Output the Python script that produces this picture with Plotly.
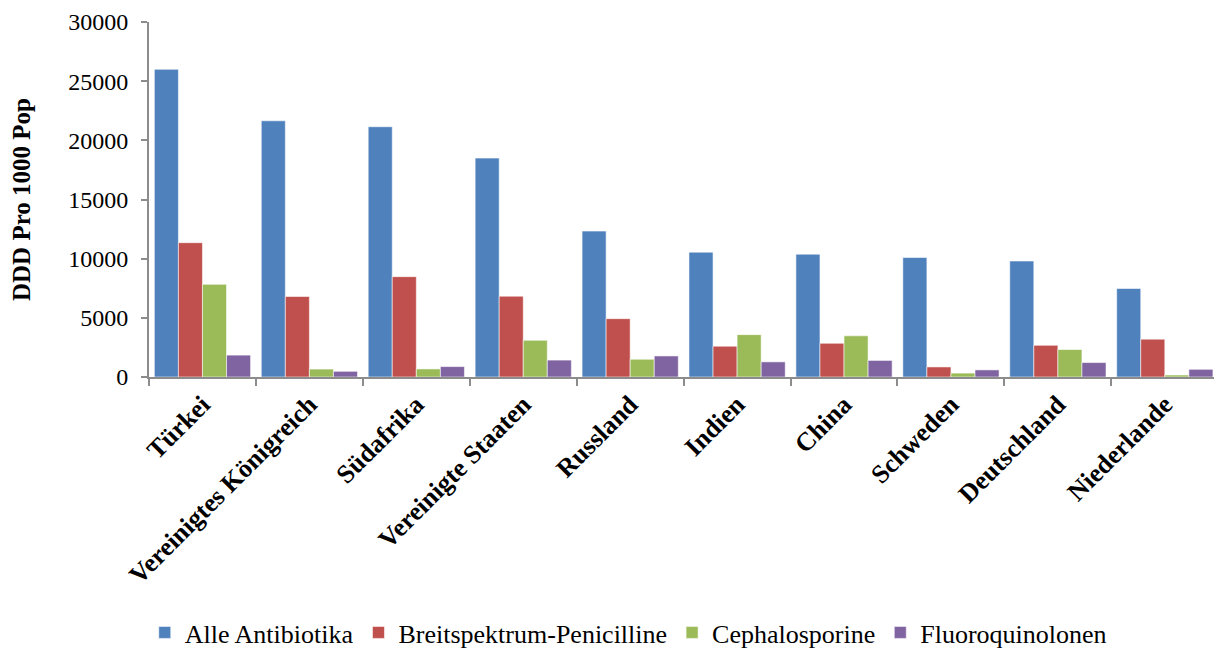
import plotly.graph_objects as go

countries = ["Türkei", "Vereinigtes Königreich", "Südafrika", "Vereinigte Staaten",
             "Russland", "Indien", "China", "Schweden", "Deutschland", "Niederlande"]

alle_antibiotika = [26000, 21650, 21150, 18500, 12330, 10550, 10380, 10100, 9800, 7480]
breitspektrum_penicilline = [11350, 6800, 8480, 6830, 4930, 2600, 2850, 850, 2680, 3200]
cephalosporine = [7830, 670, 680, 3100, 1500, 3580, 3480, 330, 2320, 170]
fluoroquinolone = [1850, 480, 880, 1430, 1780, 1280, 1400, 600, 1220, 650]

series_names = ["Alle Antibiotika", "Breitspektrum-Penicilline", "Cephalosporine", "Fluoroquinolonen"]
series_values = [alle_antibiotika, breitspektrum_penicilline, cephalosporine, fluoroquinolone]
series_colors = ["#4F81BD", "#C0504D", "#9BBB59", "#8064A2"]

y_ticks = [0, 5000, 10000, 15000, 20000, 25000, 30000]

serif = "Liberation Serif"

fig = go.Figure()
for name, vals, col in zip(series_names, series_values, series_colors):
    fig.add_trace(go.Bar(
        name=name, x=countries, y=vals,
        marker=dict(color=col, line=dict(color="rgba(255,255,255,0.55)", width=1)),
    ))

fig.update_layout(
    width=1214, height=656,
    margin=dict(l=149, r=0, t=22, b=275),
    paper_bgcolor="white", plot_bgcolor="white",
    barmode="group", bargap=0.1, bargroupgap=0,
    font=dict(family=serif, size=24, color="black"),
    showlegend=True,
    legend=dict(orientation="h", x=0.45, xanchor="center", y=-0.72, yanchor="middle",
                font=dict(size=26, family=serif, color="black"), itemwidth=30,
                traceorder="normal"),
    xaxis=dict(
        type="category", range=[-0.5, 9.46],
        tickangle=-45, tickson="boundaries", ticks="outside", ticklen=7,
        tickcolor="#8c8c8c", tickwidth=2,
        showline=True, linecolor="#8c8c8c", linewidth=2,
        showgrid=False,
        tickfont=dict(family=serif, size=26, color="black", weight="bold"),
    ),
    yaxis=dict(
        range=[0, 30000], tickvals=y_ticks, ticktext=[str(v) for v in y_ticks],
        ticks="outside", ticklen=6, tickcolor="#8c8c8c", tickwidth=2,
        ticklabelstandoff=8,
        showline=True, linecolor="#8c8c8c", linewidth=2,
        showgrid=False, zeroline=False,
        tickfont=dict(family=serif, size=24, color="black"),
        title=dict(text="<b>DDD Pro 1000 Pop</b>", font=dict(family=serif, size=25), standoff=30),
    ),
)

fig.write_html("out.html")
